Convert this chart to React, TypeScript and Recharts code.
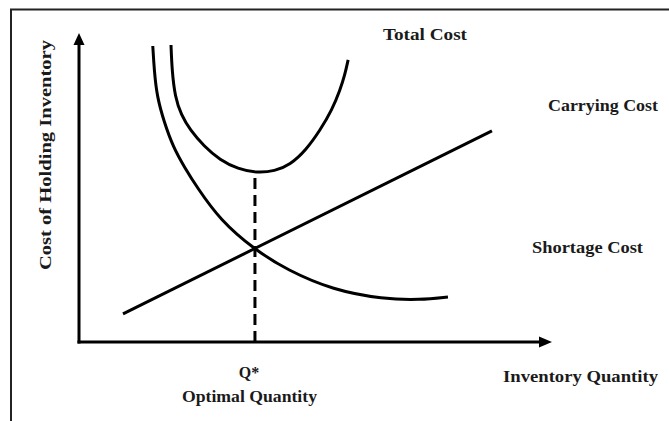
import React from 'react';
import { LineChart, Line, XAxis, YAxis, ReferenceLine, ReferenceDot } from 'recharts';

const W = 669;
const H = 421;

// Conceptual EOQ diagram, values in arbitrary units (0-100)
const totalCostQ = [19.45, 19.66, 20.3, 21.6, 23.5, 26.4, 29.8, 33.6, 37.6, 41.4, 44.6, 48.0, 51.0, 53.5, 55.2, 56.2, 56.9];
const totalCostV = [96.1, 88.0, 79.3, 73.5, 68.6, 63.4, 58.9, 56.0, 54.7, 55.3, 57.3, 62.1, 68.6, 75.1, 81.6, 86.4, 91.3];

const shortageQ = [15.6, 15.9, 16.5, 18.0, 19.9, 22.4, 24.9, 29.8, 37.2, 44.0, 53.7, 64.3, 72.1, 78.0];
const shortageV = [95.8, 88.0, 79.3, 71.2, 63.1, 56.3, 50.2, 39.5, 29.8, 23.3, 16.8, 13.9, 13.6, 14.6];

const carryingQ = [9.3, 87.3];
const carryingV = [9.1, 68.3];

const optimalQ = 37.2;
const optimalCost = 54.7;

const seriesLabels = ['Total Cost', 'Carrying Cost', 'Shortage Cost'];
const xLabel = 'Inventory Quantity';
const yLabel = 'Cost of Holding Inventory';
const optimalLabel = 'Q*';
const optimalSubLabel = 'Optimal Quantity';

const toPoints = (qs: number[], vs: number[]) => qs.map((q, i) => ({ q, v: vs[i] }));

const FONT = '"Liberation Serif", "Times New Roman", serif';
const INK = '#1a1a1a';

const rightArrow = (p: any) => (
  <polygon points={`${p.cx},${p.cy} ${p.cx - 13},${p.cy - 5.5} ${p.cx - 13},${p.cy + 5.5}`} fill="#000" />
);
const upArrow = (p: any) => (
  <polygon points={`${p.cx},${p.cy} ${p.cx - 5.5},${p.cy + 12} ${p.cx + 5.5},${p.cy + 12}`} fill="#000" />
);

export default function App() {
  const textStyle = { fontFamily: FONT, fontWeight: 700, fontSize: 16, fill: INK } as any;
  return (
    <div style={{ position: 'fixed', left: 0, top: 0, width: W, height: H, background: '#fff' }}>
      <LineChart width={W} height={H} margin={{ top: 33, right: 117, bottom: 79, left: 79 }}>
        <XAxis type="number" dataKey="q" domain={[0, 100]} hide allowDataOverflow />
        <YAxis type="number" dataKey="v" domain={[0, 100]} hide allowDataOverflow />
        <ReferenceLine
          segment={[{ x: 0, y: 0 }, { x: 97, y: 0 }]}
          stroke="#000"
          strokeWidth={3}
          strokeLinecap="square"
        />
        <ReferenceLine
          segment={[{ x: 0, y: 0 }, { x: 0, y: 96.5 }]}
          stroke="#000"
          strokeWidth={3}
          strokeLinecap="square"
        />
        <ReferenceDot x={100} y={0} shape={rightArrow} />
        <ReferenceDot x={0} y={100} shape={upArrow} />
        <ReferenceLine
          segment={[{ x: optimalQ, y: 0 }, { x: optimalQ, y: optimalCost }]}
          stroke="#000"
          strokeWidth={3}
          strokeDasharray="11 6"
        />
        <Line
          data={toPoints(carryingQ, carryingV)}
          dataKey="v"
          type="linear"
          stroke="#000"
          strokeWidth={3}
          dot={false}
          isAnimationActive={false}
        />
        <Line
          data={toPoints(shortageQ, shortageV)}
          dataKey="v"
          type="basis"
          stroke="#000"
          strokeWidth={3}
          dot={false}
          isAnimationActive={false}
        />
        <Line
          data={toPoints(totalCostQ, totalCostV)}
          dataKey="v"
          type="basis"
          stroke="#000"
          strokeWidth={3}
          dot={false}
          isAnimationActive={false}
        />
      </LineChart>
      <svg width={W} height={H} style={{ position: 'absolute', left: 0, top: 0, pointerEvents: 'none' }}>
        <rect x={11} y={9.5} width={700} height={460} fill="none" stroke="#222" strokeWidth={2} />
        <text x={383} y={40} style={textStyle} textLength={84} lengthAdjust="spacingAndGlyphs">{seriesLabels[0]}</text>
        <text x={548} y={111} style={textStyle} textLength={110} lengthAdjust="spacingAndGlyphs">{seriesLabels[1]}</text>
        <text x={532} y={253} style={textStyle} textLength={111} lengthAdjust="spacingAndGlyphs">{seriesLabels[2]}</text>
        <text x={503} y={382} style={textStyle} textLength={155} lengthAdjust="spacingAndGlyphs">{xLabel}</text>
        <text x={249} y={378} style={textStyle} textAnchor="middle">{optimalLabel}</text>
        <text x={182} y={402} style={textStyle} textLength={135} lengthAdjust="spacingAndGlyphs">{optimalSubLabel}</text>
        <text
          x={51}
          y={155}
          style={textStyle}
          textAnchor="middle"
          transform="rotate(-90, 51, 155)"
          textLength={230}
          lengthAdjust="spacingAndGlyphs"
        >
          {yLabel}
        </text>
      </svg>
    </div>
  );
}
